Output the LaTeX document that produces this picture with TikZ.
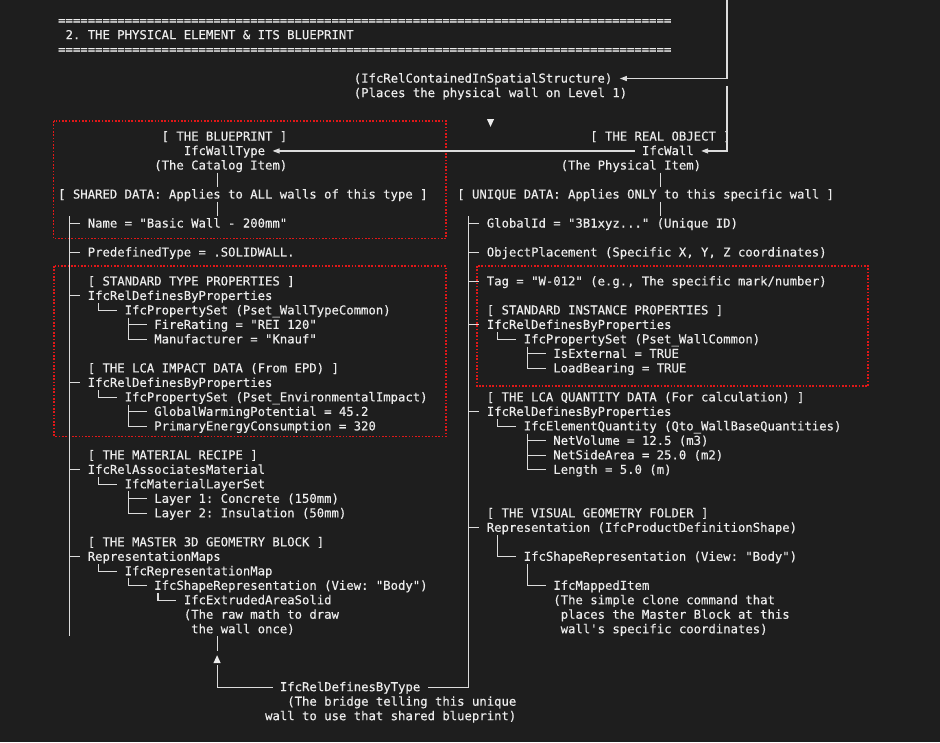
\documentclass[tikz,border=0pt]{standalone}
\usepackage{fontspec}
\setmonofont[FakeBold=0.35]{DejaVu Sans Mono}
\usetikzlibrary{arrows.meta}
\definecolor{bg}{HTML}{1E1E1E}
\definecolor{fg}{HTML}{ECECEC}
\definecolor{lnc}{HTML}{DCDCDC}
\definecolor{rd}{HTML}{E01818}
\newcommand\colL[1]{58.2+7.39*(#1)}
\newcommand\colC[1]{58.2+7.39*(#1)+3.695}
\newcommand\rowC[1]{78.5+14.49*(#1)}
\newcommand\rowT[1]{78.5+14.49*(#1)-7.245}
\newcommand\rowB[1]{78.5+14.49*(#1)+7.245}
\newcommand\rowBase[1]{78+14.49*(#1)+4.6}
\newcommand\T[4]{\node[txt] (#1) at ({\colL{#2}},{\rowBase{#3}}) {#4};}
\newcommand\teeH[3]{\draw[ln] ({\colC{#1}},{\rowC{#2}}) -- ({\colL{#1+1+#3}},{\rowC{#2}});}
\newcommand\teeF[3]{\draw[ln] ({\colC{#1}},{\rowT{#2}}) -- ({\colC{#1}},{\rowB{#2}}); \teeH{#1}{#2}{#3}}
\newcommand\elb[3]{\draw[ln] ({\colC{#1}},{\rowT{#2}}) |- ({\colL{#1+1+#3}},{\rowC{#2}});}
\newcommand\pip[2]{\draw[ln] ({\colC{#1}},{\rowT{#2}}) -- ({\colC{#1}},{\rowB{#2}});}
\frenchspacing
\begin{document}
\begin{tikzpicture}[x=1pt,y=-1pt,
  txt/.style={anchor=base west, inner sep=0pt, outer sep=0pt, text=fg,
    font=\ttfamily\fontsize{12.27}{14.5}\selectfont},
  ln/.style={draw=lnc, line width=1.15pt},
  redbox/.style={draw=rd, line width=1.7pt, dash pattern=on 1.6pt off 1.7pt},
  tipl/.style={-{Triangle[length=7pt,width=5pt]}}]
\fill[bg] (0,0) rectangle (940,742);
\useasboundingbox (0,0) rectangle (940,742);

% header
\T{eqA}{0}{-4}{===================================================================================}
\T{title}{1}{-3}{2. THE PHYSICAL ELEMENT \& ITS BLUEPRINT}
\T{eqB}{0}{-2}{===================================================================================}

% spatial relation
\T{relc}{40}{0}{(IfcRelContainedInSpatialStructure)}
\T{relcd}{40}{1}{(Places the physical wall on Level 1)}

% red dotted boxes
\draw[redbox] (53.5,121) rectangle (446,238.5);
\draw[redbox] (54.3,266) rectangle (445.7,436.5);
\draw[redbox] (476.7,266) rectangle (868.3,385.7);

% left column
\T{bph}{14}{4}{[ THE BLUEPRINT ]}
\T{wtype}{17}{5}{IfcWallType}
\T{wtyped}{13}{6}{(The Catalog Item)}
\T{shared}{0}{8}{[ SHARED DATA: Applies to ALL walls of this type ]}
\T{name}{4}{10}{Name = "Basic Wall - 200mm"}
\T{pdt}{4}{12}{PredefinedType = .SOLIDWALL.}
\T{stp}{4}{14}{[ STANDARD TYPE PROPERTIES ]}
\T{rdpa}{4}{15}{IfcRelDefinesByProperties}
\T{psa}{9}{16}{IfcPropertySet (Pset\_WallTypeCommon)}
\T{fr}{13}{17}{FireRating = "REI 120"}
\T{mf}{13}{18}{Manufacturer = "Knauf"}
\T{lca}{4}{20}{[ THE LCA IMPACT DATA (From EPD) ]}
\T{rdpb}{4}{21}{IfcRelDefinesByProperties}
\T{psb}{9}{22}{IfcPropertySet (Pset\_EnvironmentalImpact)}
\T{gwp}{13}{23}{GlobalWarmingPotential = 45.2}
\T{pec}{13}{24}{PrimaryEnergyConsumption = 320}
\T{mat}{4}{26}{[ THE MATERIAL RECIPE ]}
\T{ram}{4}{27}{IfcRelAssociatesMaterial}
\T{mls}{9}{28}{IfcMaterialLayerSet}
\T{lya}{13}{29}{Layer 1: Concrete (150mm)}
\T{lyb}{13}{30}{Layer 2: Insulation (50mm)}
\T{geo}{4}{32}{[ THE MASTER 3D GEOMETRY BLOCK ]}
\T{rm}{4}{33}{RepresentationMaps}
\T{irm}{9}{34}{IfcRepresentationMap}
\T{isra}{13}{35}{IfcShapeRepresentation (View: "Body")}
\T{eas}{17}{36}{IfcExtrudedAreaSolid}
\T{easd}{17}{37}{(The raw math to draw}
\T{ease}{18}{38}{the wall once)}
\T{rdt}{30}{42}{IfcRelDefinesByType}
\T{rdtd}{31}{43}{(The bridge telling this unique}
\T{rdte}{28}{44}{wall to use that shared blueprint)}

% right column
\T{rob}{72}{4}{[ THE REAL OBJECT ]}
\T{wall}{79}{5}{IfcWall}
\T{walld}{68}{6}{(The Physical Item)}
\T{uniq}{54}{8}{[ UNIQUE DATA: Applies ONLY to this specific wall ]}
\T{gid}{58}{10}{GlobalId = "3B1xyz..." (Unique ID)}
\T{op}{58}{12}{ObjectPlacement (Specific X, Y, Z coordinates)}
\T{tag}{58}{14}{Tag = "W-012" (e.g., The specific mark/number)}
\T{sip}{58}{16}{[ STANDARD INSTANCE PROPERTIES ]}
\T{rdpc}{58}{17}{IfcRelDefinesByProperties}
\T{psc}{63}{18}{IfcPropertySet (Pset\_WallCommon)}
\T{ext}{67}{19}{IsExternal = TRUE}
\T{lb}{67}{20}{LoadBearing = TRUE}
\T{lcq}{58}{22}{[ THE LCA QUANTITY DATA (For calculation) ]}
\T{rdpd}{58}{23}{IfcRelDefinesByProperties}
\T{eq}{63}{24}{IfcElementQuantity (Qto\_WallBaseQuantities)}
\T{nv}{67}{25}{NetVolume = 12.5 (m3)}
\T{nsa}{67}{26}{NetSideArea = 25.0 (m2)}
\T{len}{67}{27}{Length = 5.0 (m)}
\T{vis}{58}{30}{[ THE VISUAL GEOMETRY FOLDER ]}
\T{rep}{58}{31}{Representation (IfcProductDefinitionShape)}
\T{isrb}{63}{33}{IfcShapeRepresentation (View: "Body")}
\T{mi}{67}{35}{IfcMappedItem}
\T{mid}{67}{36}{(The simple clone command that}
\T{mie}{68}{37}{places the Master Block at this}
\T{mif}{68}{38}{wall's specific coordinates)}

% connectors with arrows
\draw[ln,tipl] ({\colC{90}},0) |- ({\colL{76}},{\rowC{0}});
\draw[ln,tipl] ({\colC{90}},{\rowT{1}}) |- ({\colL{87}},{\rowC{5}});
\draw[ln,tipl] ({\colL{78}},{\rowC{5}}) -- ({\colL{29}},{\rowC{5}});
\fill[fg] ({\colC{58}-3.6},119) -- ({\colC{58}+3.6},119) -- ({\colC{58}},126.8) -- cycle;

% stubs under headers
\pip{21}{7} \pip{21}{9}
\pip{81}{7} \pip{81}{9}

% left trunk
\draw[ln] ({\colC{1}},{\rowT{10}}) -- ({\colC{1}},{\rowB{38}});
\teeH{1}{10}{1} \teeH{1}{12}{1} \teeH{1}{15}{1} \teeH{1}{21}{1} \teeH{1}{27}{1} \teeH{1}{33}{1}
\elb{5}{16}{2} \teeF{9}{17}{2} \elb{9}{18}{2}
\elb{5}{22}{2} \teeF{9}{23}{2} \elb{9}{24}{2}
\elb{5}{28}{2} \teeF{9}{29}{2} \elb{9}{30}{2}
\elb{5}{34}{2} \elb{9}{35}{2} \elb{13}{36}{2}

% right trunk
\draw[ln] ({\colC{55}},{\rowT{10}}) |- ({\colL{50}},{\rowC{42}});
\teeH{55}{10}{1} \teeH{55}{12}{1} \teeH{55}{14}{1} \teeH{55}{17}{1} \teeH{55}{23}{1} \teeH{55}{31}{1}
\elb{59}{18}{2} \teeF{63}{19}{2} \elb{63}{20}{2}
\elb{59}{24}{2} \teeF{63}{25}{2} \teeF{63}{26}{2} \elb{63}{27}{2}
\pip{59}{32} \elb{59}{33}{2} \pip{63}{34} \elb{63}{35}{2}

% bridge back to the master block
\pip{21}{39}
\fill[fg] ({\colC{21}-3.6},663) -- ({\colC{21}+3.6},663) -- ({\colC{21}},655.2) -- cycle;
\draw[ln] ({\colL{29}},{\rowC{42}}) -| ({\colC{21}},664.5);
\end{tikzpicture}
\end{document}
